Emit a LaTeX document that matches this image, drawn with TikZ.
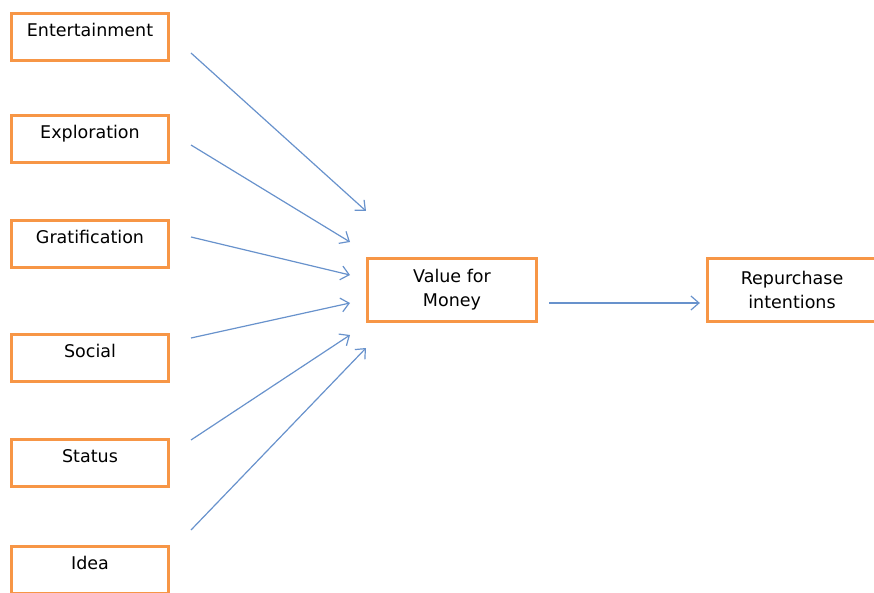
\documentclass[tikz,border=0pt]{standalone}
\usepackage{fontspec}
\setmainfont{DejaVu Sans}
\usetikzlibrary{arrows.meta}
\definecolor{boxorange}{RGB}{247,150,70}
\definecolor{arrowblue}{RGB}{104,146,204}

\begin{document}
\begin{tikzpicture}[x=1pt,y=-1pt,
    factor/.style={draw=boxorange, line width=3.3pt, rectangle, minimum width=157pt,
        inner ysep=4pt, text height=19pt, text depth=20pt,
        font=\fontsize{17.5}{20}\selectfont},
    outcome/.style={draw=boxorange, line width=3.3pt, rectangle, minimum width=169pt,
        minimum height=63pt, align=center, font=\fontsize{17.5}{24}\selectfont},
    arr/.style={draw=arrowblue, line width=1.2pt, -{Straight Barb[length=8pt, width=14pt]}}]

    \useasboundingbox (0,0) rectangle (874,593);

    \draw (90,37)  node [factor] (ent) {Entertainment};
    \draw (90,139) node [factor] (exp) {Exploration};
    \draw (90,244) node [factor] (gra) {Gratification};
    \draw (90,358) node [factor] (soc) {Social};
    \draw (90,463) node [factor] (sta) {Status};
    \draw (90,570) node [factor] (ide) {Idea};
    \draw (452,290) node [outcome] (val) {Value for\\Money};
    \draw (792,290) node [outcome] (rep) {Repurchase\\intentions};

    \coordinate (s1) at (191,53);
    \coordinate (s2) at (191,145);
    \coordinate (s3) at (191,237);
    \coordinate (s4) at (191,338);
    \coordinate (s5) at (191,440);
    \coordinate (s6) at (191,530);
    \coordinate (e1) at (366,211);
    \coordinate (e2) at (350,242);
    \coordinate (e3) at (350,275);
    \coordinate (e4) at (350,303);
    \coordinate (e5) at (350,335);
    \coordinate (e6) at (366,348);
    \draw [arr] (s1) -- (e1);
    \draw [arr] (s2) -- (e2);
    \draw [arr] (s3) -- (e3);
    \draw [arr] (s4) -- (e4);
    \draw [arr] (s5) -- (e5);
    \draw [arr] (s6) -- (e6);
    \draw [arr] ([xshift=11pt, yshift=-13pt]val.east) -- ([xshift=-6pt, yshift=-13pt]rep.west);

\end{tikzpicture}
\end{document}
